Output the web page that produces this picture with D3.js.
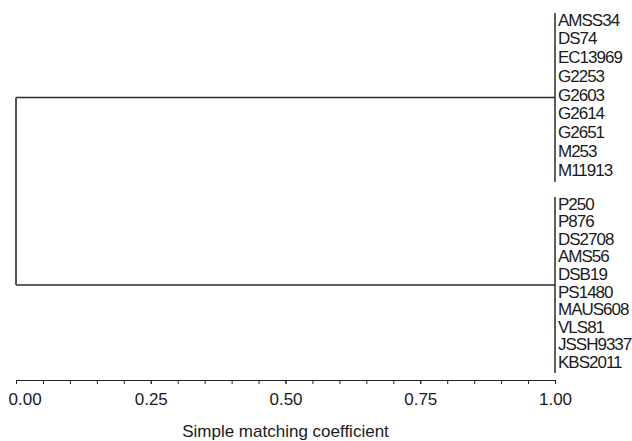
<!DOCTYPE html>
<html>
<head>
<meta charset="utf-8">
<script src="https://cdn.jsdelivr.net/npm/d3@7"></script>
<style>
  body { margin: 0; background: #fff; }
  text { font-family: "Liberation Sans", Arial, sans-serif; fill: #1a1a1a; }
</style>
</head>
<body>
<script>
// Chart data

let clusterA = ['AMSS34', 'DS74', 'EC13969', 'G2253', 'G2603', 'G2614', 'G2651', 'M253', 'M11913']
let clusterB = ['P250', 'P876', 'DS2708', 'AMS56', 'DSB19', 'PS1480', 'MAUS608', 'VLS81', 'JSSH9337', 'KBS2011']

// similarity at which the leaves of each cluster join, and where the two clusters join
let clusterSim = [1.00, 1.00]
let rootSim = 0.00

let majorTicks = [0, 0.25, 0.5, 0.75, 1]
let minorTicks = d3.range(0, 21).map(i => i / 20)

let axisTitle = 'Simple matching coefficient'

// Container sizing

let width = 632
let height = 441

let svg = d3.select('body')
    .append('svg')
    .attr('width', width)
    .attr('height', height)

let xScale = d3.scaleLinear()
    .domain([0, 1])
    .range([16, 555])

let yA = d3.scaleBand().domain(clusterA).range([13, 182])
let yB = d3.scaleBand().domain(clusterB).range([197, 373])

let clusters = [
    { leaves: clusterA, y: yA, sim: clusterSim[0] },
    { leaves: clusterB, y: yB, sim: clusterSim[1] }
]
clusters.forEach(c => {
    let r = c.y.range()
    c.mid = (r[0] + r[1]) / 2
})

let lineColor = '#2a2a2a'
let tree = svg.append('g')

// vertical bar for each cluster
tree.selectAll('.cluster-bar')
    .data(clusters)
    .join('line')
    .attr('x1', d => xScale(d.sim))
    .attr('x2', d => xScale(d.sim))
    .attr('y1', d => d.y.range()[0])
    .attr('y2', d => d.y.range()[1])
    .attr('stroke', lineColor)
    .attr('stroke-width', 1.5)

// horizontal link from root to cluster
tree.selectAll('.cluster-link')
    .data(clusters)
    .join('line')
    .attr('x1', xScale(rootSim))
    .attr('x2', d => xScale(d.sim))
    .attr('y1', d => d.mid)
    .attr('y2', d => d.mid)
    .attr('stroke', lineColor)
    .attr('stroke-width', 1.5)

// root vertical
tree.append('line')
    .attr('x1', xScale(rootSim))
    .attr('x2', xScale(rootSim))
    .attr('y1', clusters[0].mid)
    .attr('y2', clusters[1].mid)
    .attr('stroke', '#555')
    .attr('stroke-width', 2)

// leaf labels
clusters.forEach(c => {
    svg.append('g')
        .selectAll('text')
        .data(c.leaves)
        .join('text')
        .attr('x', xScale(c.sim) + 3)
        .attr('y', d => c.y(d) + 12.5)
        .attr('font-size', '17px')
        .attr('letter-spacing', '-1px')
        .text(d => d)
})

// Axis
let axisY = 380

svg.append('g')
    .attr('transform', `translate(0, ${axisY})`)
    .call(d3.axisBottom(xScale).tickValues(minorTicks).tickFormat('').tickSize(4).tickSizeOuter(0))
    .call(g => g.selectAll('path, line').attr('stroke', '#222'))

let majorAxis = svg.append('g')
    .attr('transform', `translate(0, ${axisY})`)
    .call(d3.axisBottom(xScale).tickValues(majorTicks).tickFormat(d3.format('.2f')).tickSize(4).tickSizeOuter(0).tickPadding(9))

majorAxis.select('.domain').remove()
majorAxis.selectAll('line').attr('stroke', '#222')
majorAxis.selectAll('text')
    .attr('font-size', '17px')
    .attr('font-family', '"Liberation Sans", Arial, sans-serif')
    .attr('fill', '#1a1a1a')
majorAxis.selectAll('text').filter(d => d === 0).attr('text-anchor', 'start').attr('dx', -8)

svg.append('text')
    .attr('x', (xScale.range()[0] + xScale.range()[1]) / 2)
    .attr('y', 437)
    .attr('text-anchor', 'middle')
    .attr('font-size', '17px')
    .text(axisTitle)
</script>
</body>
</html>
